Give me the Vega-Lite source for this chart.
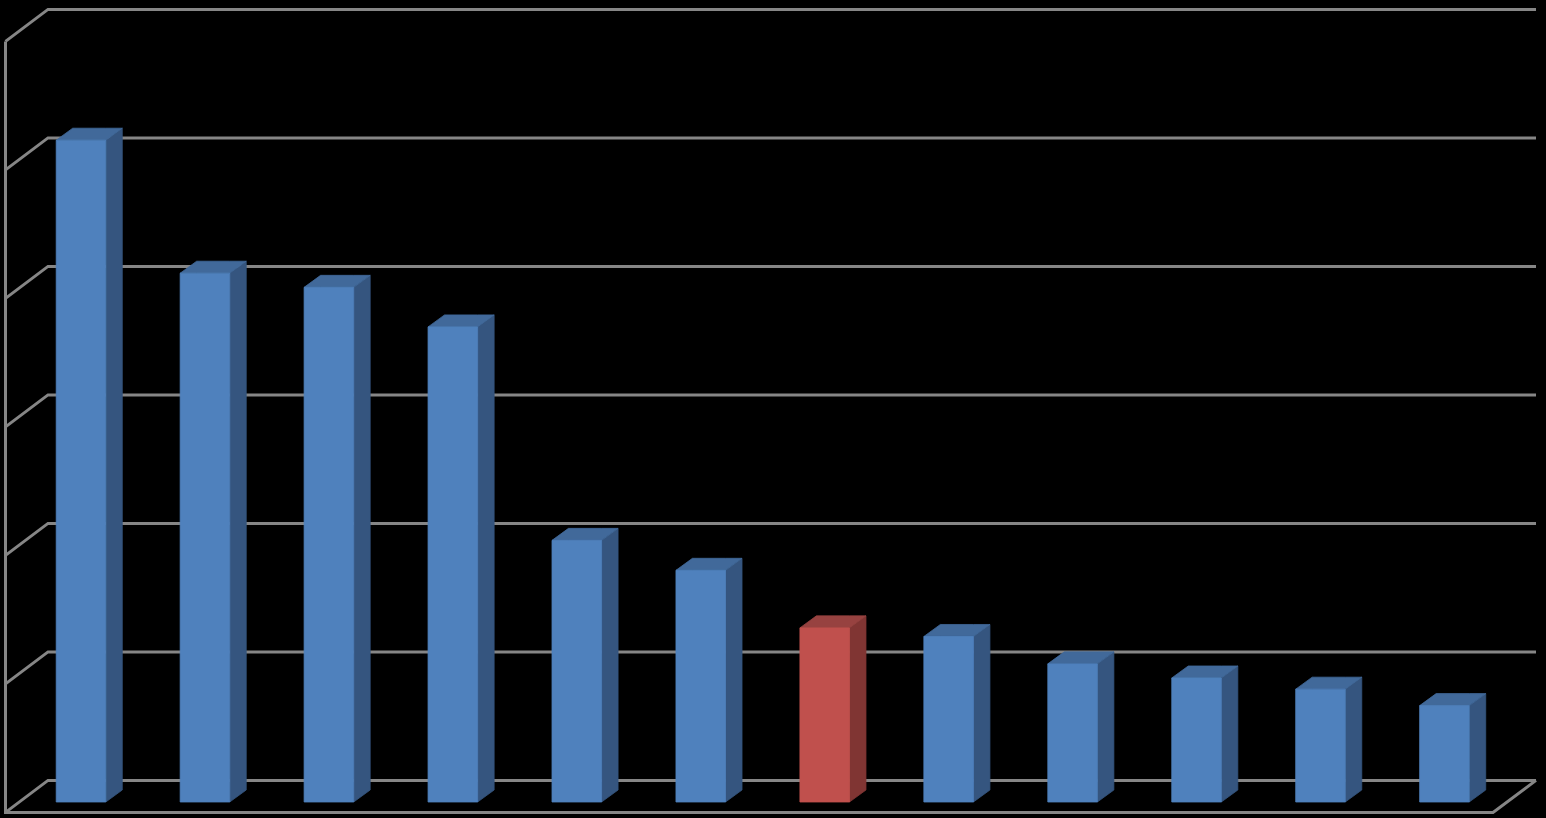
{
"$schema":"https://vega.github.io/schema/vega-lite/v6.json",
"width":1546,"height":818,"padding":0,"autosize":{"type":"none"},
"background":"#000000",
"config":{"view":{"stroke":null},"axis":{"grid":false}},
"datasets":{
"bars":[
{"rank":1,"value":515,"group":"other"},
{"rank":2,"value":411.5,"group":"other"},
{"rank":3,"value":400.5,"group":"other"},
{"rank":4,"value":369.7,"group":"other"},
{"rank":5,"value":203.6,"group":"other"},
{"rank":6,"value":180.3,"group":"other"},
{"rank":7,"value":135.5,"group":"highlight"},
{"rank":8,"value":128.8,"group":"other"},
{"rank":9,"value":107.5,"group":"other"},
{"rank":10,"value":96.5,"group":"other"},
{"rank":11,"value":87.8,"group":"other"},
{"rank":12,"value":75,"group":"other"}
],
"ticks":[{"tick":0},{"tick":100},{"tick":200},{"tick":300},{"tick":400},{"tick":500},{"tick":600}],
"frame":[
{"n":0,"u":0.3909,"v":591.9},
{"n":1,"u":0.3909,"v":-8.1},
{"n":2,"u":12.3918,"v":-8.1},
{"n":3,"u":12.7387,"v":16.8}
]
},
"layer":[
{"data":{"name":"ticks"},
"transform":[
{"calculate":"[0,1,2]","as":"node"},
{"flatten":["node"]},
{"calculate":"datum.node==0?0.3909:datum.node==1?0.7338:12.7387","as":"u"},
{"calculate":"datum.node==0?datum.tick-8.1:datum.tick+16.8","as":"v"}],
"mark":{"type":"line","stroke":"#868686","strokeWidth":3,"strokeJoin":"miter"},
"encoding":{
"x":{"field":"u","type":"quantitative","axis":null,"scale":{"domain":[0.3465,12.8193],"nice":false,"zero":false}},
"y":{"field":"v","type":"quantitative","axis":null,"scale":{"domain":[-12.45,624.1],"nice":false,"zero":false}},
"detail":{"field":"tick"},
"order":{"field":"node"}}},
{"data":{"name":"frame"},
"mark":{"type":"line","stroke":"#868686","strokeWidth":3,"strokeJoin":"miter"},
"encoding":{
"x":{"field":"u","type":"quantitative","axis":null},
"y":{"field":"v","type":"quantitative","axis":null},
"order":{"field":"n"}}},
{"data":{"name":"bars"},
"transform":[
{"calculate":"[0,1]","as":"node"},
{"flatten":["node"]},
{"calculate":"datum.rank+0.2+datum.node*0.133","as":"u"},
{"calculate":"datum.node*9.34","as":"v0"},
{"calculate":"datum.value+datum.node*9.34","as":"v1"}],
"mark":{"type":"area","interpolate":"linear","line":false,"strokeWidth":0.8},
"encoding":{
"x":{"field":"u","type":"quantitative","axis":null},
"y":{"field":"v0","type":"quantitative","axis":null},
"y2":{"field":"v1"},
"detail":{"field":"rank"},
"fill":{"field":"group","type":"nominal","legend":null,"scale":{"domain":["other","highlight"],"range":["#35557F","#803533"]}},
"stroke":{"field":"group","type":"nominal","legend":null,"scale":{"domain":["other","highlight"],"range":["#35557F","#803533"]}}}},
{"data":{"name":"bars"},
"transform":[
{"calculate":"[0,1,2,3]","as":"node"},
{"flatten":["node"]},
{"calculate":"datum.rank-0.2+(datum.node==0?0:datum.node==1?0.133:datum.node==2?0.4:0.533)","as":"u"},
{"calculate":"datum.node==3?datum.value+9.34:datum.value","as":"v0"},
{"calculate":"datum.node==0?datum.value:datum.value+9.34","as":"v1"}],
"mark":{"type":"area","interpolate":"linear","strokeWidth":0.8},
"encoding":{
"x":{"field":"u","type":"quantitative","axis":null},
"y":{"field":"v0","type":"quantitative","axis":null},
"y2":{"field":"v1"},
"detail":{"field":"rank"},
"fill":{"field":"group","type":"nominal","legend":null,"scale":{"domain":["other","highlight"],"range":["#41699A","#974240"]}},
"stroke":{"field":"group","type":"nominal","legend":null,"scale":{"domain":["other","highlight"],"range":["#41699A","#974240"]}}}},
{"data":{"name":"bars"},
"transform":[
{"calculate":"datum.rank-0.2","as":"left"},
{"calculate":"datum.rank+0.2","as":"right"}],
"mark":{"type":"rect","strokeWidth":0.8},
"encoding":{
"x":{"field":"left","type":"quantitative","axis":null},
"x2":{"field":"right"},
"y":{"field":"value","type":"quantitative","axis":null},
"y2":{"datum":0},
"fill":{"field":"group","type":"nominal","legend":null,"scale":{"domain":["other","highlight"],"range":["#4F81BD","#C0504D"]}},
"stroke":{"field":"group","type":"nominal","legend":null,"scale":{"domain":["other","highlight"],"range":["#4F81BD","#C0504D"]}}}}
],
"resolve":{"scale":{"fill":"independent","stroke":"independent"}}
}
